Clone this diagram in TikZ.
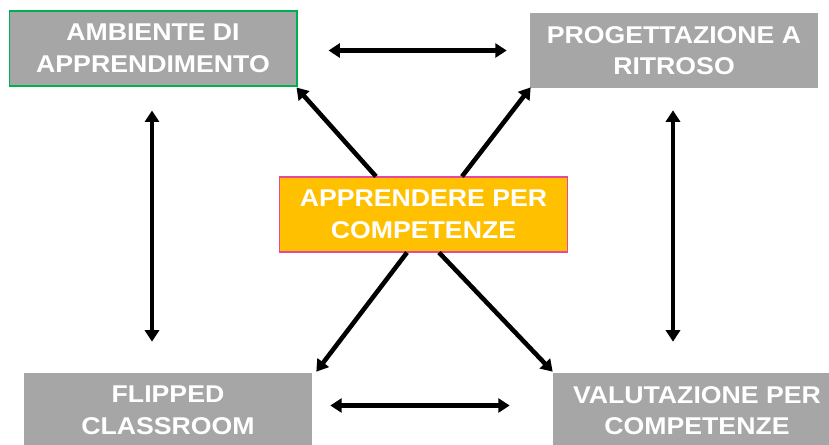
\documentclass[tikz,border=0pt]{standalone}
\usepackage{fontspec}
\setmainfont{Liberation Sans}[FakeStretch=1.1]
\usetikzlibrary{arrows.meta,calc}

\definecolor{boxgray}{HTML}{A6A6A6}
\definecolor{boxorange}{HTML}{FFC000}
\definecolor{bordergreen}{HTML}{00B050}
\definecolor{borderpink}{HTML}{E8489A}

\def \bw {5.76cm}
\def \bh {1.5cm}

\begin{document}
\begin{tikzpicture}[x=0.02cm,y=-0.02cm,
    box/.style={fill=boxgray,text=white,minimum width=\bw,minimum height=\bh,
      align=center,inner sep=0pt,font=\bfseries\fontsize{13.8}{18}\selectfont},
    link/.style={line width=2.6pt,-{Triangle[length=6.5pt,width=8pt]}},
    biglink/.style={line width=2.6pt,{Triangle[length=6.5pt,width=8pt]}-{Triangle[length=6.5pt,width=8pt]}}]
      \useasboundingbox (0,0) rectangle (829,444);
      %boxes
      \node[box,draw=bordergreen,line width=0.6pt] (amb) at (153,48.5) {AMBIENTE DI\\APPRENDIMENTO};
      \node[box] (prog) at (674,50.5) {PROGETTAZIONE A\\RITROSO};
      \node[box] (flip) at (168,410.5) {FLIPPED\\CLASSROOM};
      \node[box] (valu) at (697,410.5) {VALUTAZIONE PER\\COMPETENZE};
      %arrows round
      \draw[biglink] ($(amb.east)+(31,2)$) -- ($(prog.west)+(-23,0)$);
      \draw[biglink] ($(flip.east)+(18,-5)$) -- ($(valu.west)+(-43,-5)$);
      \draw[biglink] ($(amb.south)+(-1,24)$) -- ($(flip.north)+(-16,-31)$);
      \draw[biglink] ($(prog.south)+(-1,22)$) -- ($(valu.north)+(-24,-31)$);
      %centre
      \node[box,fill=boxorange,draw=borderpink,line width=0.6pt] (cen) at (423.5,214.5) {APPRENDERE PER\\COMPETENZE};
      %diagonals
      \draw[link] ($(cen.north west)+(97,0)$) -- ($(amb.south east)+(-1,1)$);
      \draw[link] ($(cen.north west)+(183,0)$) -- ($(prog.south west)+(1,-1)$);
      \draw[link] ($(cen.south west)+(128,0)$) -- ($(flip.north east)+(4,-1)$);
      \draw[link] ($(cen.south west)+(160,0)$) -- ($(valu.north west)+(0,-1)$);
\end{tikzpicture}
\end{document}
